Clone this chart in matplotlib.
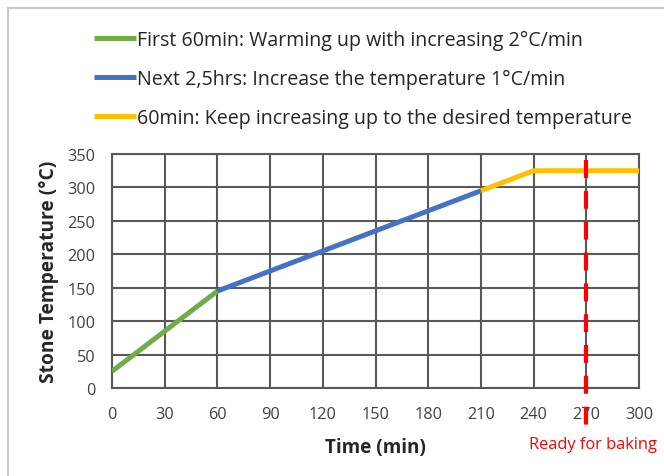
import matplotlib.pyplot as plt

# -----------------------------------
# DATA
# -----------------------------------
warm_x = [0, 60]
warm_y = [25, 145]

mid_x = [60, 210]
mid_y = [145, 295]

final_x = [210, 240, 300]
final_y = [295, 325, 325]

ready_time = 270
ready_top = 341
ready_bottom = -66

x_ticks = [0, 30, 60, 90, 120, 150, 180, 210, 240, 270, 300]
y_ticks = [0, 50, 100, 150, 200, 250, 300, 350]

labels = [
    "First 60min: Warming up with increasing 2°C/min",
    "Next 2,5hrs: Increase the temperature 1°C/min",
    "60min: Keep increasing up to the desired temperature",
]

plt.rcParams["font.family"] = ["Open Sans", "DejaVu Sans"]

fig = plt.figure(figsize=(6.64, 4.77), dpi=100)
ax = fig.add_axes([112 / 664, 1 - 389 / 477, (639 - 112) / 664, (389 - 155) / 477])

# light frame around the chart area (cut off at right/bottom like the screenshot)
fig.add_artist(plt.Line2D([8 / 664, 8 / 664], [0, 1 - 9 / 477],
                          color="#c8c8c8", lw=1.5, transform=fig.transFigure))
fig.add_artist(plt.Line2D([8 / 664, 1], [1 - 9 / 477, 1 - 9 / 477],
                          color="#c8c8c8", lw=1.5, transform=fig.transFigure))

l1, = ax.plot(warm_x, warm_y, color="#70AD47", lw=3.6, solid_capstyle="butt", zorder=3)
l2, = ax.plot(mid_x, mid_y, color="#4472C4", lw=3.6, solid_capstyle="butt", zorder=3)
l3, = ax.plot(final_x, final_y, color="#FFC000", lw=3.6, solid_capstyle="butt", zorder=3)

ax.plot([ready_time, ready_time], [ready_top, ready_bottom], color="#FF0000",
        lw=3, ls=(0, (4.3, 3.1)), clip_on=False, zorder=4)
ax.annotate("Ready for baking", xy=(ready_time, -84), xytext=(5, 0),
            textcoords="offset points", color="#FF0000", fontsize=11.8,
            ha="center", va="center", annotation_clip=False)

ax.set_xlim(0, 300)
ax.set_ylim(0, 350)
ax.set_xticks(x_ticks)
ax.set_yticks(y_ticks)
ax.grid(True, color="#595959", lw=1.5)
for s in ax.spines.values():
    s.set_color("#595959")
    s.set_linewidth(1.5)
ax.tick_params(length=0, labelsize=11.7, colors="#404040")
ax.tick_params(axis="x", pad=13)
ax.tick_params(axis="y", pad=12)

ax.set_xlabel("Time (min)", fontsize=13.6, fontweight="bold", color="#262626", labelpad=11)
ax.set_ylabel("Stone Temperature (°C)", fontsize=13.8, fontweight="bold", color="#262626",
              labelpad=6)

fig.legend([l1, l2, l3], labels, loc="upper left", bbox_to_anchor=(76 / 664, 1 - 13 / 477),
           frameon=False, fontsize=14.15, handlelength=2.15, handletextpad=0.05,
           labelspacing=0.96, labelcolor="#262626")

fig.savefig("out.png", dpi=100)
